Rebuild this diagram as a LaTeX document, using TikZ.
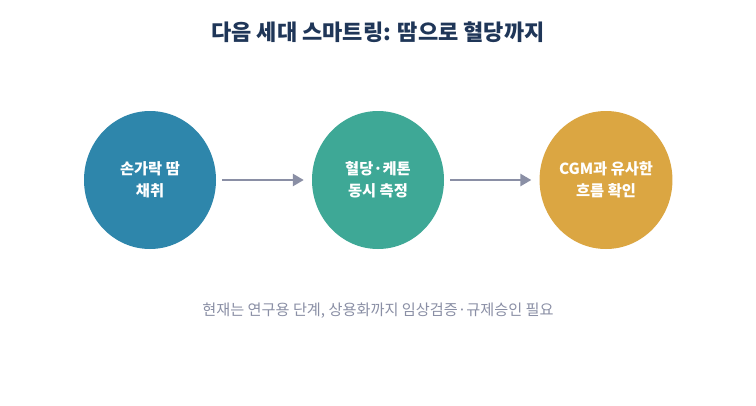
\documentclass[tikz,border=0pt]{standalone}
\usepackage{fontspec}
\setmainfont{Noto Sans CJK KR}
\usetikzlibrary{arrows.meta,shapes.geometric}
\definecolor{cblue}{HTML}{2E86AB}
\definecolor{cgreen}{HTML}{3EA896}
\definecolor{cgold}{HTML}{DBA642}
\definecolor{arrowgrey}{HTML}{8A8FA5}
\definecolor{titlenavy}{HTML}{1F3658}
\definecolor{captiongrey}{HTML}{8A8FA5}
\tikzset{
  stage/.style={ellipse, minimum width=132pt, minimum height=138pt, inner sep=0pt,
    text=white, font=\fontsize{15.3}{22}\selectfont\bfseries, align=center, draw=none},
  flow/.style={draw=arrowgrey, line width=2.6pt, -{Triangle[length=11pt,width=12pt]},
    shorten <=6pt, shorten >=8pt},
}
\begin{document}
\begin{tikzpicture}[x=1pt,y=-1pt]
\useasboundingbox[fill=white] (0,0) rectangle (756,405);
\node[font=\fontsize{22}{26}\selectfont\bfseries, text=titlenavy] (title) at (378,32) {다음 세대 스마트링: 땀으로 혈당까지};
\node[stage, fill=cblue] (s1) at (150,180) {손가락 땀\\채취};
\node[stage, fill=cgreen] (s2) at (378,180) {혈당·케톤\\동시 측정};
\node[stage, fill=cgold] (s3) at (606,180) {CGM과 유사한\\흐름 확인};
\draw[flow] (s1.east) -- (s2.west);
\draw[flow] (s2.east) -- (s3.west);
\node[font=\fontsize{15.2}{18}\selectfont, text=captiongrey] (cap) at (378,311) {현재는 연구용 단계, 상용화까지 임상검증·규제승인 필요};
\end{tikzpicture}
\end{document}
